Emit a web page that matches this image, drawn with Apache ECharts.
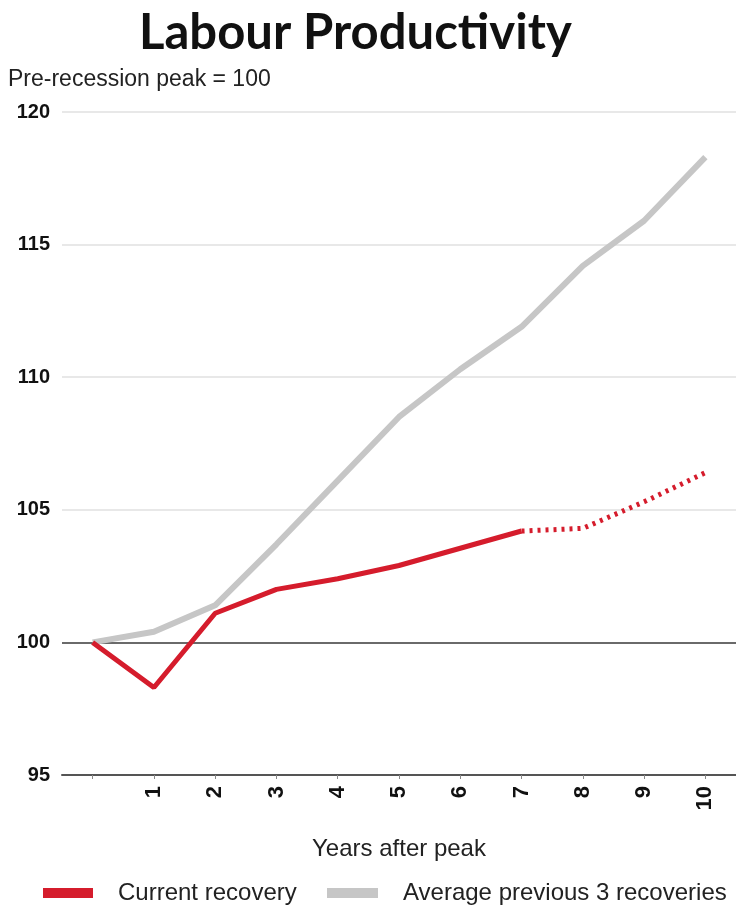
<!DOCTYPE html>
<html>
<head>
<meta charset="utf-8">
<script src="https://cdn.jsdelivr.net/npm/echarts@6/dist/echarts.min.js"></script>
<style>
  html, body { margin: 0; padding: 0; background: #fff; }
  #chart { width: 736px; height: 907px; }
</style>
</head>
<body>
<div id="chart"></div>
<script>
// Years after the pre-recession peak (0 = the peak itself)
const years = [0, 1, 2, 3, 4, 5, 6, 7, 8, 9, 10];

// Average of the three previous recoveries, index (peak = 100)
const averagePrevious = [100, 100.4, 101.4, 103.7, 106.1, 108.5, 110.3, 111.9, 114.2, 115.9, 118.3];

// Current recovery, observed (years 0-7)
const currentRecovery = [100, 98.3, 101.1, 102.0, 102.4, 102.9, 103.55, 104.2];

// Current recovery, projected (years 7-10)
const currentProjection = [null, null, null, null, null, null, null, 104.2, 104.3, 105.3, 106.4];

const yTicks = { min: 95, max: 120, step: 5 };

const sans = "'Liberation Sans', Arial, sans-serif";
const RED = '#d51c2c';
const GREY = '#c6c6c6';

const legendText = { fontFamily: sans, fontSize: 24, color: '#222', padding: [0, 0, 0, 20] };

const chart = echarts.init(document.getElementById('chart'), null, { renderer: 'canvas' });

chart.setOption({
  animation: false,
  backgroundColor: '#ffffff',
  title: [
    {
      text: 'Labour Productivity',
      left: 134,
      top: 4,
      textStyle: { fontFamily: 'Lato, sans-serif', fontWeight: 'bold', fontSize: 49, color: '#111' }
    },
    {
      text: 'Pre-recession peak = 100',
      left: 3,
      top: 63,
      textStyle: { fontFamily: sans, fontWeight: 'normal', fontSize: 23, color: '#222' }
    }
  ],
  // one legend block per series so each sits at its own spot along the bottom
  legend: [
    {
      left: 38,
      top: 876,
      itemWidth: 50,
      itemHeight: 10,
      icon: 'rect',
      selectedMode: false,
      data: ['Current recovery'],
      textStyle: legendText
    },
    {
      left: 322,
      top: 876,
      itemWidth: 51,
      itemHeight: 10,
      icon: 'rect',
      selectedMode: false,
      data: ['Average previous 3 recoveries'],
      textStyle: legendText
    }
  ],
  grid: { left: 62, right: 0, top: 112, bottom: 132, containLabel: false },
  xAxis: {
    type: 'category',
    data: years,
    boundaryGap: true,
    name: 'Years after peak',
    nameLocation: 'middle',
    nameGap: 62,
    nameTextStyle: { fontFamily: sans, fontSize: 24, color: '#222' },
    axisLine: { show: true, lineStyle: { color: '#555', width: 2 } },
    axisTick: { show: true, alignWithLabel: true, length: 4, lineStyle: { color: '#888', width: 1 } },
    axisLabel: {
      rotate: 90,
      margin: 11,
      fontFamily: sans,
      fontWeight: 'bold',
      fontSize: 22,
      color: '#111',
      formatter: v => (String(v) === '0' ? '' : v)
    },
    splitLine: { show: false }
  },
  yAxis: {
    type: 'value',
    min: yTicks.min,
    max: yTicks.max,
    interval: yTicks.step,
    axisLine: { show: false },
    axisTick: { show: false },
    axisLabel: {
      margin: 12,
      fontFamily: sans,
      fontWeight: 'bold',
      fontSize: 20,
      color: '#111'
    },
    splitLine: {
      show: true,
      lineStyle: { color: ['#555', '#6a6a6a', '#e8e8e8', '#e8e8e8', '#e8e8e8', '#e8e8e8'], width: 2 }
    }
  },
  series: [
    {
      name: 'Average previous 3 recoveries',
      type: 'line',
      data: averagePrevious,
      symbol: 'none',
      color: GREY,
      lineStyle: { color: GREY, width: 6 },
      z: 2
    },
    {
      name: 'Current recovery',
      type: 'line',
      data: currentRecovery,
      symbol: 'none',
      color: RED,
      lineStyle: { color: RED, width: 5 },
      z: 3
    },
    {
      name: 'Current recovery projection',
      type: 'line',
      data: currentProjection,
      symbol: 'none',
      color: RED,
      lineStyle: { color: RED, width: 5, type: [3, 5] },
      z: 3
    }
  ]
});
</script>
</body>
</html>
